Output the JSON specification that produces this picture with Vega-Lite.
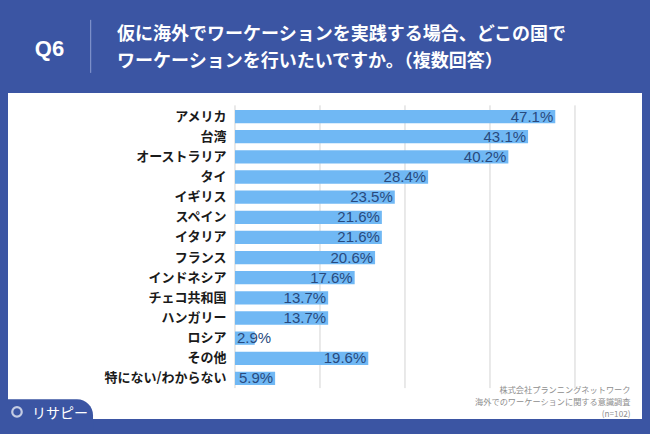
{
  "$schema": "https://vega.github.io/schema/vega-lite/v6.json",
  "width": 634,
  "height": 326,
  "autosize": {"type": "none"},
  "padding": {"left": 8, "top": 93, "right": 8, "bottom": 15},
  "background": "#3b55a3",
  "config": {"view": {"fill": "white", "stroke": null}},
  "title": {
    "text": ["仮に海外でワーケーションを実践する場合、どこの国で", "ワーケーションを行いたいですか。（複数回答）"],
    "anchor": "start",
    "frame": "group",
    "dx": 109,
    "offset": -51.5,
    "fontSize": 18,
    "lineHeight": 27,
    "font": "Noto Sans CJK JP",
    "fontWeight": "bold",
    "color": "#ffffff"
  },
  "data": {
    "values": [
      {"country": "アメリカ", "v": 0.471},
      {"country": "台湾", "v": 0.431},
      {"country": "オーストラリア", "v": 0.402},
      {"country": "タイ", "v": 0.284},
      {"country": "イギリス", "v": 0.235},
      {"country": "スペイン", "v": 0.216},
      {"country": "イタリア", "v": 0.216},
      {"country": "フランス", "v": 0.206},
      {"country": "インドネシア", "v": 0.176},
      {"country": "チェコ共和国", "v": 0.137},
      {"country": "ハンガリー", "v": 0.137},
      {"country": "ロシア", "v": 0.029},
      {"country": "その他", "v": 0.196},
      {"country": "特にない/わからない", "v": 0.059}
    ]
  },
  "layer": [
    {
      "data": {"values": [0, 0.125, 0.25, 0.375, 0.5]},
      "mark": {"type": "rule", "color": "#d3d3d3", "strokeWidth": 1, "yOffset": -11.2, "y2Offset": 9.7},
      "encoding": {
        "x": {"field": "data", "type": "quantitative"},
        "y": {"datum": "アメリカ"},
        "y2": {"datum": "特にない/わからない"}
      }
    },
    {
      "mark": {"type": "bar", "color": "#70b8f4"},
      "encoding": {
        "y": {
          "field": "country",
          "type": "nominal",
          "sort": null,
          "scale": {
            "domain": ["アメリカ", "台湾", "オーストラリア", "タイ", "イギリス", "スペイン", "イタリア", "フランス", "インドネシア", "チェコ共和国", "ハンガリー", "ロシア", "その他", "特にない/わからない"],
            "range": [13.5, 295.5],
            "paddingInner": 0.34,
            "paddingOuter": 0.17
          },
          "axis": {
            "offset": -227,
            "domain": false,
            "ticks": false,
            "tickSize": 0,
            "labelPadding": 9,
            "labelFontSize": 13,
            "labelFont": "Noto Sans CJK JP",
            "labelFontWeight": "bold",
            "labelColor": "#1a1a1a",
            "labelLimit": 300,
            "title": "Q6",
            "titleAngle": 0,
            "titleX": -186,
            "titleY": -45,
            "titleAlign": "center",
            "titleBaseline": "middle",
            "titleFontSize": 22,
            "titleFont": "Liberation Sans",
            "titleFontWeight": "bold",
            "titleColor": "#ffffff"
          }
        },
        "x": {
          "field": "v",
          "type": "quantitative",
          "scale": {"domain": [-0.33382, 0.59853], "nice": false},
          "axis": {
            "grid": false,
            "labels": false,
            "ticks": false,
            "domain": false,
            "title": ["株式会社プランニングネットワーク", "海外でのワーケーションに関する意識調査", "(n=102)"],
            "titleX": 622,
            "titleY": -33,
            "titleAlign": "right",
            "titleBaseline": "top",
            "titleFontSize": 8.2,
            "titleLineHeight": 12.3,
            "titleFont": "Noto Sans CJK JP",
            "titleFontWeight": "normal",
            "titleColor": "#8e8e8e"
          }
        }
      }
    },
    {
      "transform": [{"filter": "datum.v >= 0.05"}],
      "mark": {"type": "text", "align": "right", "baseline": "middle", "dx": -2, "fontSize": 15, "font": "Liberation Sans", "color": "#284a7e"},
      "encoding": {
        "y": {"field": "country", "type": "nominal", "sort": null},
        "x": {"field": "v", "type": "quantitative"},
        "text": {"field": "v", "type": "quantitative", "format": ".1%"}
      }
    },
    {
      "transform": [{"filter": "datum.v < 0.05"}],
      "mark": {"type": "text", "align": "left", "baseline": "middle", "dx": 2, "fontSize": 15, "font": "Liberation Sans", "color": "#284a7e"},
      "encoding": {
        "y": {"field": "country", "type": "nominal", "sort": null},
        "x": {"datum": 0},
        "text": {"field": "v", "type": "quantitative", "format": ".1%"}
      }
    },
    {
      "data": {"values": [{}]},
      "mark": {"type": "rule", "color": "#8c9dd2", "strokeWidth": 1, "yOffset": -96.7, "y2Offset": -43.7},
      "encoding": {
        "x": {"datum": -0.2122},
        "y": {"datum": "アメリカ"},
        "y2": {"datum": "アメリカ"}
      }
    },
    {
      "data": {"values": [{}]},
      "mark": {"type": "bar", "color": "#3b55a3", "size": 44, "yOffset": 42.7, "cornerRadiusTopRight": 16},
      "encoding": {
        "x": {"datum": -0.4},
        "x2": {"datum": -0.2088},
        "y": {"datum": "特にない/わからない"}
      }
    },
    {
      "data": {"values": [{}]},
      "mark": {"type": "point", "shape": "circle", "filled": false, "stroke": "#ffffff", "strokeWidth": 2.2, "size": 90, "yOffset": 33.5},
      "encoding": {
        "x": {"datum": -0.3206},
        "y": {"datum": "特にない/わからない"}
      }
    },
    {
      "data": {"values": [{}]},
      "mark": {"type": "text", "align": "left", "baseline": "middle", "fontSize": 14, "font": "Noto Sans CJK JP", "color": "#ffffff", "yOffset": 35.5},
      "encoding": {
        "x": {"datum": -0.2985},
        "y": {"datum": "特にない/わからない"},
        "text": {"value": "リサピー"}
      }
    }
  ]
}
